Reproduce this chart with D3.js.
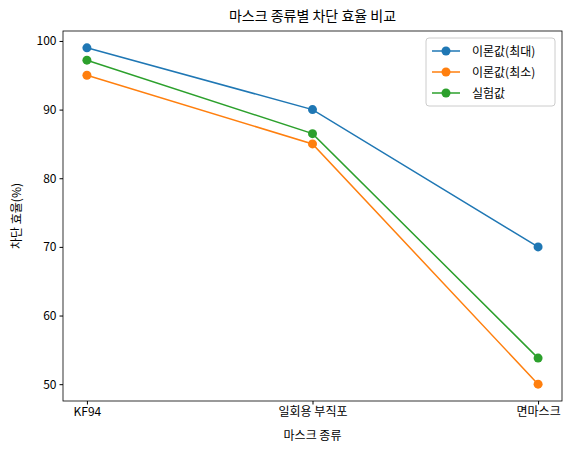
<!DOCTYPE html>
<html><head><meta charset="utf-8">
<script src="https://cdn.jsdelivr.net/npm/d3@7"></script>
<style>body{margin:0;background:#fff}text{font-family:"Noto Sans CJK KR","DejaVu Sans",sans-serif}</style>
</head><body>
<svg id="c" width="572" height="454"></svg>
<script>
var categories = ['KF94', '일회용 부직포', '면마스크'];
var seriesNames = ['이론값(최대)', '이론값(최소)', '실험값'];
var seriesValues = [
  [99, 90, 70],
  [95, 85, 50],
  [97.2, 86.5, 53.8]
];
var colors = ['#1f77b4', '#ff7f0e', '#2ca02c'];
var yTicks = [50, 60, 70, 80, 90, 100];

var svg = d3.select('#c');
var L = 63, R = 562, T = 31, B = 401;

var x = d3.scalePoint().domain(categories).range([L, R]).padding(0.106);
var y = d3.scaleLinear().domain([47.55, 101.45]).range([B, T]);

svg.append('g').attr('transform', 'translate(0,' + B + ')')
  .call(d3.axisBottom(x).tickSize(3.5).tickPadding(3))
  .call(g => g.select('.domain').remove())
  .selectAll('text').attr('font-size', 12).attr('fill', '#000');
svg.append('g').attr('transform', 'translate(' + L + ',0)')
  .call(d3.axisLeft(y).tickValues(yTicks).tickSize(3.5).tickPadding(3))
  .call(g => g.select('.domain').remove())
  .selectAll('text').attr('font-size', 12).attr('fill', '#000');

svg.append('rect').attr('x', L).attr('y', T).attr('width', R - L).attr('height', B - T)
  .attr('fill', 'none').attr('stroke', '#000').attr('stroke-width', 0.8);

var line = d3.line().x((d, i) => x(categories[i])).y(d => y(d));
seriesValues.forEach(function(vals, s) {
  svg.append('path').attr('d', line(vals)).attr('fill', 'none')
    .attr('stroke', colors[s]).attr('stroke-width', 1.5);
  svg.selectAll('.p' + s).data(vals).enter().append('circle')
    .attr('cx', (d, i) => x(categories[i])).attr('cy', d => y(d))
    .attr('r', 4.5).attr('fill', colors[s]);
});

svg.append('text').attr('x', (L + R) / 2).attr('y', 21).attr('text-anchor', 'middle')
  .attr('font-size', 14).text('마스크 종류별 차단 효율 비교');
svg.append('text').attr('x', (L + R) / 2).attr('y', 440).attr('text-anchor', 'middle')
  .attr('font-size', 12).text('마스크 종류');
svg.append('text').attr('transform', 'translate(21,' + (T + B) / 2 + ') rotate(-90)')
  .attr('text-anchor', 'middle').attr('font-size', 12).text('차단 효율(%)');

var lg = svg.append('g').attr('transform', 'translate(426,38)');
lg.append('rect').attr('width', 129).attr('height', 68).attr('rx', 3)
  .attr('fill', '#fff').attr('stroke', '#ccc');
seriesNames.forEach(function(n, i) {
  var yy = 13 + i * 21;
  lg.append('line').attr('x1', 6).attr('x2', 34).attr('y1', yy).attr('y2', yy)
    .attr('stroke', colors[i]).attr('stroke-width', 1.5);
  lg.append('circle').attr('cx', 20).attr('cy', yy).attr('r', 4.5).attr('fill', colors[i]);
  lg.append('text').attr('x', 46).attr('y', yy + 4.5).attr('font-size', 12).text(n);
});
</script>
</body></html>
